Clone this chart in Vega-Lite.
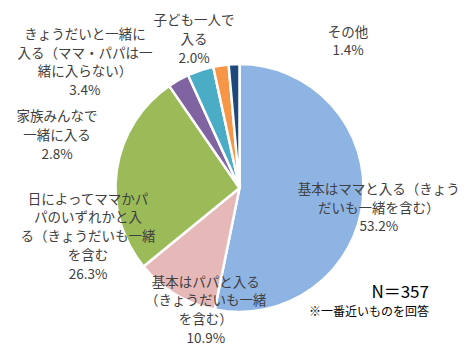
{
  "$schema": "https://vega.github.io/schema/vega-lite/v6.json",
  "width": 451,
  "height": 318,
  "autosize": "none",
  "padding": {"left": 14, "top": 29, "right": 0, "bottom": 0},
  "background": "white",
  "config": {"view": {"stroke": null}, "font": "Noto Sans CJK JP"},
  "data": {
    "values": [
      {"idx": 1, "category": "基本はママと入る（きょうだいも一緒を含む）", "value": 53.2, "label": "基本はママと入る（きょう\nだいも一緒を含む）"},
      {"idx": 2, "category": "基本はパパと入る（きょうだいも一緒を含む）", "value": 10.9, "label": "基本はパパと入る\n（きょうだいも一緒\nを含む）"},
      {"idx": 3, "category": "日によってママかパパのいずれかと入る（きょうだいも一緒を含む", "value": 26.3, "label": "日によってママかパ\nパのいずれかと入\nる（きょうだいも一緒\nを含む"},
      {"idx": 4, "category": "家族みんなで一緒に入る", "value": 2.8, "label": "家族みんなで\n一緒に入る"},
      {"idx": 5, "category": "きょうだいと一緒に入る（ママ・パパは一緒に入らない）", "value": 3.4, "label": "きょうだいと一緒に\n入る（ママ・パパは一\n緒に入らない）"},
      {"idx": 6, "category": "子ども一人で入る", "value": 2.0, "label": "子ども一人で\n入る"},
      {"idx": 7, "category": "その他", "value": 1.4, "label": "その他"}
    ]
  },
  "transform": [
    {"stack": "value", "groupby": [], "sort": [{"field": "idx", "order": "ascending"}], "as": ["v0", "v1"]},
    {"calculate": "(datum.v0 + datum.v1) / 2", "as": "vmid"},
    {"calculate": "datum.label + '\\n' + format(datum.value, '.1f') + '%'", "as": "txt"}
  ],
  "layer": [
    {
      "mark": {"type": "arc", "outerRadius": 124, "stroke": "white", "strokeWidth": 2.5},
      "encoding": {
        "theta": {"field": "v0", "type": "quantitative", "scale": {"domain": [0, 100]}},
        "theta2": {"field": "v1"},
        "color": {
          "field": "category",
          "type": "nominal",
          "legend": null,
          "scale": {
            "domain": [
              "基本はママと入る（きょうだいも一緒を含む）",
              "基本はパパと入る（きょうだいも一緒を含む）",
              "日によってママかパパのいずれかと入る（きょうだいも一緒を含む",
              "家族みんなで一緒に入る",
              "きょうだいと一緒に入る（ママ・パパは一緒に入らない）",
              "子ども一人で入る",
              "その他"
            ],
            "range": ["#8EB4E3", "#E6B9B8", "#9BBB59", "#8064A2", "#4BACC6", "#F79646", "#1F497D"]
          }
        }
      }
    },
    {
      "transform": [{"filter": "datum.idx === 1"}],
      "mark": {"type": "text", "radius": 136, "dx": 4, "dy": -11.7, "fontSize": 13.5, "lineHeight": 18.7, "lineBreak": "\n", "align": "center", "baseline": "middle", "color": "#404040"},
      "encoding": {"theta": {"field": "vmid", "type": "quantitative"}, "text": {"field": "txt"}}
    },
    {
      "transform": [{"filter": "datum.idx === 2"}],
      "mark": {"type": "text", "radius": 127, "dx": 32, "dy": -14, "fontSize": 13.5, "lineHeight": 18.7, "lineBreak": "\n", "align": "center", "baseline": "middle", "color": "#404040"},
      "encoding": {"theta": {"field": "vmid", "type": "quantitative"}, "text": {"field": "txt"}}
    },
    {
      "transform": [{"filter": "datum.idx === 3"}],
      "mark": {"type": "text", "radius": 155, "dx": 2, "dy": 33.6, "fontSize": 13.5, "lineHeight": 18.7, "lineBreak": "\n", "align": "center", "baseline": "middle", "color": "#404040"},
      "encoding": {"theta": {"field": "vmid", "type": "quantitative"}, "text": {"field": "txt"}}
    },
    {
      "transform": [{"filter": "datum.idx === 4"}],
      "mark": {"type": "text", "radius": 135, "dx": -116, "dy": 46.8, "fontSize": 13.5, "lineHeight": 18.7, "lineBreak": "\n", "align": "center", "baseline": "middle", "color": "#404040"},
      "encoding": {"theta": {"field": "vmid", "type": "quantitative"}, "text": {"field": "txt"}}
    },
    {
      "transform": [{"filter": "datum.idx === 5"}],
      "mark": {"type": "text", "radius": 167, "dx": -102, "dy": 5.5, "fontSize": 13.5, "lineHeight": 18.7, "lineBreak": "\n", "align": "center", "baseline": "middle", "color": "#404040"},
      "encoding": {"theta": {"field": "vmid", "type": "quantitative"}, "text": {"field": "txt"}}
    },
    {
      "transform": [{"filter": "datum.idx === 6"}],
      "mark": {"type": "text", "radius": 153, "dx": -22.5, "dy": -15.4, "fontSize": 13.5, "lineHeight": 18.7, "lineBreak": "\n", "align": "center", "baseline": "middle", "color": "#404040"},
      "encoding": {"theta": {"field": "vmid", "type": "quantitative"}, "text": {"field": "txt"}}
    },
    {
      "transform": [{"filter": "datum.idx === 7"}],
      "mark": {"type": "text", "radius": 141, "dx": 114.7, "dy": -14.5, "fontSize": 13.5, "lineHeight": 18.7, "lineBreak": "\n", "align": "center", "baseline": "middle", "color": "#404040"},
      "encoding": {"theta": {"field": "vmid", "type": "quantitative"}, "text": {"field": "txt"}}
    }
  ],
  "title": {
    "text": "N＝357",
    "subtitle": "※一番近いものを回答",
    "orient": "bottom",
    "anchor": "end",
    "frame": "group",
    "offset": -62,
    "dx": -36,
    "baseline": "top",
    "font": "Noto Sans CJK JP",
    "fontSize": 17,
    "fontWeight": "normal",
    "color": "#000000",
    "subtitleFont": "Noto Sans CJK JP",
    "subtitleFontSize": 12,
    "subtitleColor": "#000000",
    "subtitlePadding": 5
  }
}
